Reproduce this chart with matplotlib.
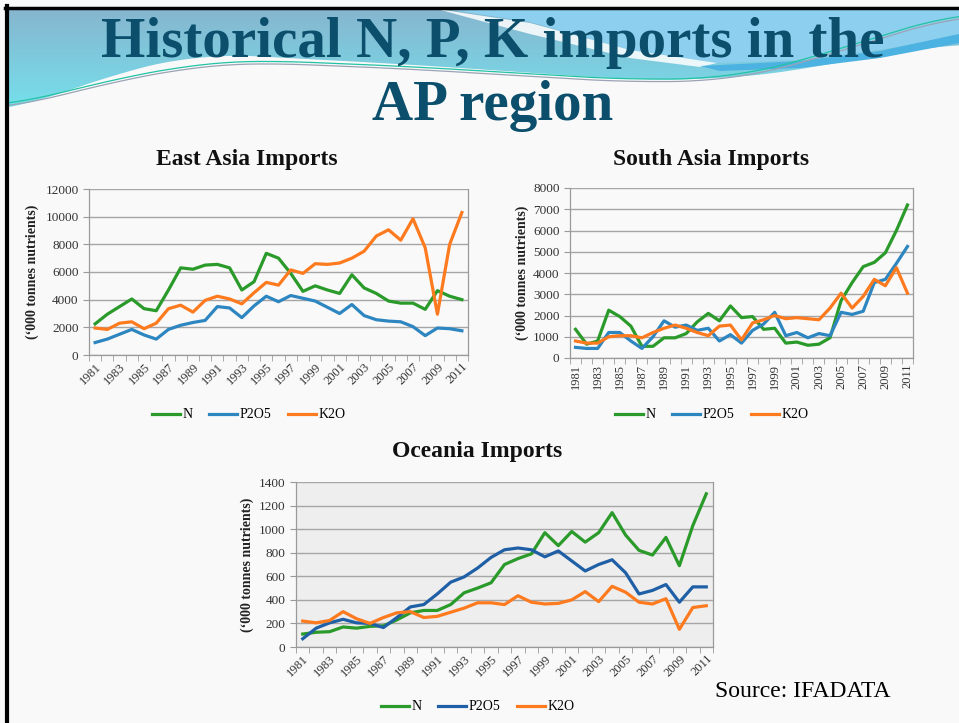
import numpy as np
import matplotlib
matplotlib.use("Agg")
import matplotlib.pyplot as plt
from matplotlib.patches import Polygon

plt.rcParams['font.family'] = ['Liberation Serif', 'DejaVu Serif']

# Data ('000 tonnes nutrients)
years = list(range(1981, 2012))

east_n = [2250, 2950, 3500, 4050, 3350, 3200, 4700, 6300, 6200, 6500, 6550, 6300, 4700, 5300, 7350, 7000,
          5900, 4600, 5000, 4700, 4450, 5800, 4850, 4450, 3900, 3750, 3750, 3300, 4650, 4250, 4000]
east_p = [900, 1150, 1500, 1850, 1450, 1150, 1850, 2150, 2350, 2500, 3500, 3400, 2700, 3550, 4250, 3850,
          4300, 4100, 3900, 3450, 3000, 3650, 2850, 2550, 2450, 2400, 2050, 1400, 1950, 1900, 1750]
east_k = [1950, 1850, 2300, 2400, 1900, 2300, 3350, 3600, 3100, 3950, 4250, 4050, 3700, 4500, 5250, 5050,
          6150, 5900, 6600, 6550, 6650, 7000, 7500, 8600, 9050, 8300, 9850, 7750, 2950, 8000, 10300]

south_n = [1350, 650, 800, 2250, 1950, 1500, 550, 550, 950, 950, 1150, 1700, 2100, 1750, 2450, 1900,
           1950, 1350, 1400, 700, 750, 600, 650, 950, 2700, 3550, 4300, 4500, 4950, 6000, 7200]
south_p = [500, 450, 450, 1200, 1200, 800, 450, 1000, 1750, 1450, 1550, 1300, 1400, 800, 1100, 700,
           1300, 1600, 2150, 1050, 1200, 950, 1150, 1050, 2150, 2050, 2200, 3550, 3700, 4450, 5250]
south_k = [800, 700, 700, 1000, 1050, 1050, 950, 1200, 1400, 1550, 1400, 1200, 1050, 1500, 1550, 850,
           1650, 1800, 2000, 1850, 1900, 1850, 1800, 2350, 3050, 2350, 2900, 3700, 3400, 4250, 3050]

oce_n = [110, 125, 130, 170, 160, 175, 180, 230, 290, 310, 310, 360, 460, 500, 545, 700,
         750, 790, 970, 860, 980, 890, 970, 1140, 950, 820, 780, 930, 690, 1030, 1300]
oce_p = [70, 160, 205, 235, 205, 200, 165, 250, 340, 360, 450, 550, 595, 670, 760, 825,
         840, 825, 765, 815, 730, 645, 700, 740, 630, 450, 480, 530, 380, 510, 510]
oce_k = [220, 205, 225, 300, 240, 200, 250, 290, 300, 250, 260, 295, 330, 375, 375, 360,
         435, 380, 365, 370, 400, 470, 385, 515, 465, 380, 365, 410, 150, 335, 350]

series_names = ['N', 'P2O5', 'K2O']

W, H = 959, 723
fig = plt.figure(figsize=(W / 100, H / 100), dpi=100)
fig.patch.set_facecolor('#f9f9f9')

# ---- slide background (wave banner + frame) ----
bg = fig.add_axes([0, 0, 1, 1], zorder=-10)
bg.set_xlim(0, W)
bg.set_ylim(H, 0)
bg.axis('off')


def smooth_curve(pts, x0, x1):
    xs = np.linspace(x0, x1, 400)
    ys = np.interp(xs, [p[0] for p in pts], [p[1] for p in pts])
    k = 25
    pad = np.pad(ys, k, mode='edge')
    ys = np.convolve(pad, np.ones(2 * k + 1) / (2 * k + 1), mode='same')[k:-k]
    return xs, ys


lower = [(8, 113), (100, 78), (200, 53), (250, 56), (400, 64), (550, 74), (630, 80),
         (730, 79), (800, 70), (880, 55), (959, 43)]
lx, ly = smooth_curve(lower, 8, W)
band = Polygon(np.column_stack([np.r_[8, lx, W], np.r_[9, ly, 9]]), closed=True,
               facecolor='none', edgecolor='none')
bg.add_patch(band)
grad = np.linspace(0, 1, 100)[:, None]
cmap = matplotlib.colors.LinearSegmentedColormap.from_list('wave', ['#86b6cf', '#74e4ef'])
im = bg.imshow(grad, cmap=cmap, extent=[8, W, 120, 9], aspect='auto', zorder=1)
im.set_clip_path(band)

right_blue = Polygon([(445, 9), (W, 9), (W, 36), (880, 50), (800, 60), (717, 63),
                      (630, 50), (530, 22)], closed=True, facecolor='#8dcfee',
                     edgecolor='none', zorder=2)
bg.add_patch(right_blue)
stripe = Polygon([(437, 9), (530, 23), (630, 50), (717, 63), (700, 67), (630, 58),
                  (530, 34), (470, 18)], closed=True, facecolor='white', alpha=0.85,
                 edgecolor='none', zorder=3)
bg.add_patch(stripe)
dark_band = Polygon([(700, 66), (800, 61), (880, 51), (W, 34), (W, 43), (880, 58),
                     (800, 68), (720, 71)], closed=True, facecolor='#4cb2e2',
                    edgecolor='none', zorder=3)
bg.add_patch(dark_band)

thin = [(8, 107), (100, 82), (200, 63), (250, 60), (400, 66), (550, 75), (630, 80),
        (730, 78), (760, 72), (830, 52), (900, 30), (959, 12)]
tx, ty = smooth_curve(thin, 8, W)
bg.plot(tx, ty, color='#22c3a4', lw=0.9, zorder=4)
bg.plot(tx, ty + 2.5, color='#9aa3b5', lw=0.9, zorder=4)

bg.plot([5, W], [7.5, 7.5], color='black', lw=2.5, zorder=5)
bg.plot([6.5, 6.5], [6, H], color='black', lw=3, zorder=5)

# ---- titles ----
title_color = '#0b4f6c'
fig.text(493 / W, 1 - 57 / H, 'Historical N, P, K imports in the', ha='center',
         va='baseline', fontsize=41, fontweight='bold', color=title_color)
fig.text(493 / W, 1 - 120 / H, 'AP region', ha='center', va='baseline',
         fontsize=41, fontweight='bold', color=title_color)

GREEN = '#2a9a2a'
BLUE = '#2e86c1'
DBLUE = '#1f5fa6'
ORANGE = '#fd7a1e'


def px_axes(left, top, right, bottom):
    return fig.add_axes([left / W, 1 - bottom / H, (right - left) / W, (bottom - top) / H])


def draw_chart(ax, n, p, k, ymax, step, pcolor, rot, facecolor, title, title_xy,
               ylabel_x, legend_xy):
    x = np.arange(len(years))
    ax.set_facecolor(facecolor)
    for vals, c, name in zip([n, p, k], [GREEN, pcolor, ORANGE], series_names):
        ax.plot(x, vals, color=c, lw=2.3, label=name, solid_joinstyle='round')
    ax.set_xlim(-0.5, len(years) - 0.5)
    ax.set_ylim(0, ymax)
    ax.set_yticks(np.arange(0, ymax + 1, step))
    ax.yaxis.grid(True, color='#a6a6a6', lw=1)
    ax.set_axisbelow(True)
    for s in ax.spines.values():
        s.set_color('#9a9a9a')
        s.set_linewidth(0.9)
    ax.spines['top'].set_visible(False)
    ax.set_xticks(x[::2])
    ax.set_xticks(np.arange(-0.5, len(years), 1), minor=True)
    ax.tick_params(axis='x', which='major', length=0, pad=4, labelsize=9, labelcolor='#333333')
    ax.tick_params(axis='x', which='minor', length=4, color='#9a9a9a')
    ax.tick_params(axis='y', length=4, color='#9a9a9a', labelsize=9.5, labelcolor='#333333')
    if rot == 45:
        ax.set_xticklabels([str(y) for y in years[::2]], rotation=45, ha='right',
                           rotation_mode='anchor')
    else:
        ax.set_xticklabels([str(y) for y in years[::2]], rotation=90)
    fig.text(title_xy[0] / W, 1 - title_xy[1] / H, title, ha='center', va='baseline',
             fontsize=17, fontweight='bold', color='#111111')
    bb = ax.get_position()
    fig.text(ylabel_x / W, bb.y0 + bb.height / 2, '(\u2018000 tonnes nutrients)', rotation=90,
             ha='center', va='center', fontsize=10, fontweight='bold', color='#222222')
    ax.legend(loc='center', bbox_to_anchor=(legend_xy[0] / W, 1 - legend_xy[1] / H),
              bbox_transform=fig.transFigure, ncol=3, frameon=False, fontsize=10,
              handlelength=2.0, handletextpad=0.2, columnspacing=1.2)


ax1 = px_axes(89, 189, 468, 355)
draw_chart(ax1, east_n, east_p, east_k, 12000, 2000, BLUE, 45, 'none',
           'East Asia Imports', (247, 165), 32, (249, 415))

ax2 = px_axes(570, 188, 913, 358)
draw_chart(ax2, south_n, south_p, south_k, 8000, 1000, BLUE, 90, 'none',
           'South Asia Imports', (711, 165), 522, (712, 415))

ax3 = px_axes(296, 482, 713, 647)
draw_chart(ax3, oce_n, oce_p, oce_k, 1400, 200, DBLUE, 45, '#eeeeee',
           'Oceania Imports', (477, 457), 247, (478, 707))

fig.text(715 / W, 1 - 697 / H, 'Source: IFADATA', ha='left', va='baseline',
         fontsize=17, color='black')

fig.savefig('out.png', dpi=100, facecolor=fig.get_facecolor())
